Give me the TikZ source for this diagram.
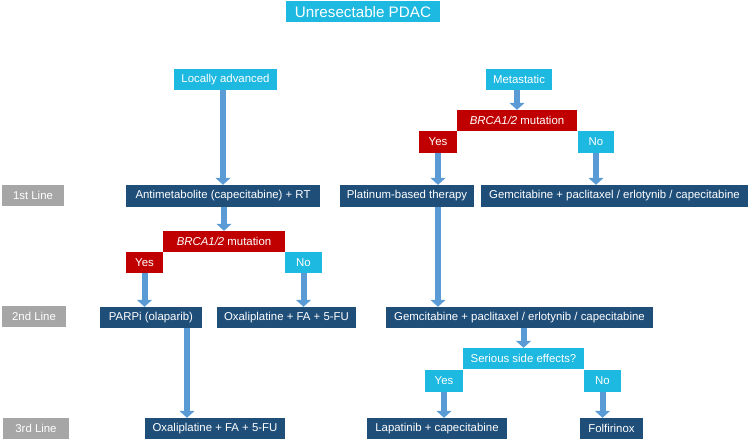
\documentclass[tikz,border=0pt]{standalone}
\usepackage{fontspec}
\setmainfont{Liberation Sans}
\usepackage{xcolor}
\usetikzlibrary{positioning, arrows.meta}

\definecolor{navy}{HTML}{1F4E79}
\definecolor{cyanbox}{HTML}{1EB9E1}
\definecolor{redbox}{HTML}{C00000}
\definecolor{grayline}{HTML}{A6A6A6}
\definecolor{flowblue}{HTML}{5B9BD5}

\begin{document}
\begin{tikzpicture}[
  x=1pt, y=-1pt,
  font=\fontsize{11.4}{13}\selectfont,
  box/.style={inner sep=0pt, minimum height=21pt, text=white, align=center},
  therapy/.style={box, fill=navy},
  group/.style={box, fill=cyanbox},
  mutation/.style={box, fill=redbox},
  linelabel/.style={box, fill=grayline},
  flow/.style={draw=flowblue, line width=6pt, -{Triangle[length=7pt, width=15pt]}}
]
\useasboundingbox (0,0) rectangle (750,441);

% ── Title ─────────────────────────────────────────────────
\node[group, minimum width=154pt, minimum height=21pt,
      font=\fontsize{15.2}{17}\selectfont] (title) at (363,12) {Unresectable PDAC};

% ── Treatment lines ───────────────────────────────────────
\node[linelabel, minimum width=62pt] (line1) at (33,195.5)  {1st Line};
\node[linelabel, minimum width=64pt] (line2) at (34,316.5)  {2nd Line};
\node[linelabel, minimum width=66pt] (line3) at (36,428.5)  {3rd Line};

% ── Left branch: locally advanced ─────────────────────────
\node[group,    minimum width=103pt] (locadv)  at (225.5,79.5) {Locally advanced};
\node[therapy,  minimum width=194pt, minimum height=22pt] (antimet) at (223,196) {Antimetabolite (capecitabine) + RT};
\node[mutation, minimum width=122pt] (brcaL)   at (224,241.5)  {\textit{BRCA1/2} mutation};
\node[mutation, minimum width=37pt]  (yesL)    at (144.5,262.5) {Yes};
\node[group,    minimum width=37pt]  (noL)     at (303.5,262.5) {No};
\node[therapy,  minimum width=102pt] (parp)    at (151,317.5)  {PARPi (olaparib)};
\node[therapy,  minimum width=139pt] (oxa2)    at (286.5,317.5) {Oxaliplatine + FA + 5-FU};
\node[therapy,  minimum width=140pt] (oxa3)    at (215,428.5)  {Oxaliplatine + FA + 5-FU};
\coordinate (pdrop) at (187,0);

% ── Right branch: metastatic ──────────────────────────────
\node[group,    minimum width=66pt]  (metast)  at (519,79.5)   {Metastatic};
\node[mutation, minimum width=120pt] (brcaR)   at (517,120.5)  {\textit{BRCA1/2} mutation};
\node[mutation, minimum width=38pt, minimum height=22pt] (yesR) at (438,142) {Yes};
\node[group,    minimum width=36pt,  minimum height=22pt] (noR)  at (596,142) {No};
\node[therapy,  minimum width=134pt, minimum height=22pt] (platin) at (407,196) {Platinum-based therapy};
\node[therapy,  minimum width=267pt, minimum height=22pt] (gem1)   at (614.5,196) {Gemcitabine + paclitaxel / erlotynib / capecitabine};
\node[therapy,  minimum width=267pt] (gem2)    at (519.5,317.5) {Gemcitabine + paclitaxel / erlotynib / capecitabine};
\node[group,    minimum width=121pt] (serious) at (523.5,358.5) {Serious side effects?};
\node[group,    minimum width=38pt, minimum height=22pt] (yesS) at (444,380.5) {Yes};
\node[group,    minimum width=37pt, minimum height=22pt] (noS)  at (602.5,380.5) {No};
\node[therapy,  minimum width=140pt] (lapat)   at (437,428.5)  {Lapatinib + capecitabine};
\node[therapy,  minimum width=63pt]  (folf)    at (611.5,428.5) {Folfirinox};

% ── Arrows ────────────────────────────────────────────────
\draw[flow] (locadv.south -| antimet) -- (antimet.north);
\draw[flow] (antimet.south -| brcaL)  -- (brcaL.north);
\draw[flow] (yesL.south)              -- (parp.north -| yesL);
\draw[flow] (noL.south)               -- (oxa2.north -| noL);
\draw[flow] (parp.south -| pdrop)     -- (oxa3.north -| pdrop);

\draw[flow] (metast.south -| brcaR)   -- (brcaR.north);
\draw[flow] (yesR.south)              -- (platin.north -| yesR);
\draw[flow] (noR.south)               -- (gem1.north -| noR);
\draw[flow] (platin.south -| yesR)    -- (gem2.north -| yesR);
\draw[flow] (gem2.south -| serious)   -- (serious.north);
\draw[flow] (yesS.south)              -- (lapat.north -| yesS);
\draw[flow] (noS.south)               -- (folf.north -| noS);

\end{tikzpicture}
\end{document}
